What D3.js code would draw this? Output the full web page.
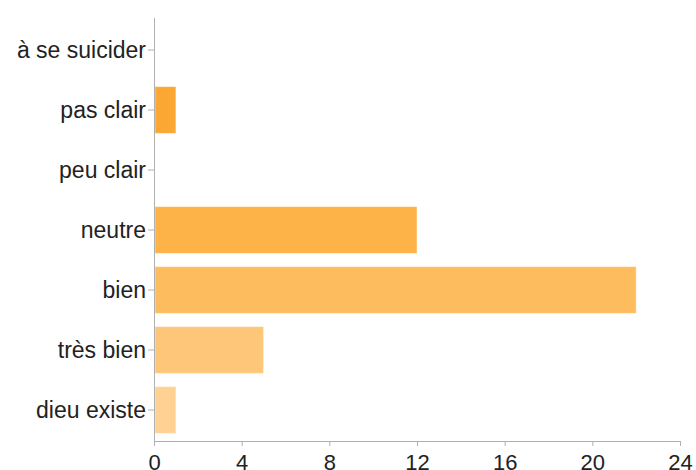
<!DOCTYPE html>
<html>
<head>
<meta charset="utf-8">
<script src="https://cdn.jsdelivr.net/npm/d3@7"></script>
<style>
  html, body { margin: 0; padding: 0; background: #fff; }
  svg { display: block; }
  .axis path, .axis line { stroke: #b0b0b0; }
  .axis text { font-family: "Liberation Sans", Arial, Helvetica, sans-serif; fill: #222; }
</style>
</head>
<body>
<svg id="chart" width="696" height="470"></svg>
<script>
const categories = ["à se suicider", "pas clair", "peu clair", "neutre", "bien", "très bien", "dieu existe"];
const values = [0, 1, 0, 12, 22, 5, 1];
const colors = ["#FBA12A", "#FBA733", "#FCAD3D", "#FDB347", "#FDBC5E", "#FEC678", "#FFD293"];
const xTicks = [0, 4, 8, 12, 16, 20, 24];

const svg = d3.select("#chart");
const x = d3.scaleLinear().domain([0, 24]).range([154, 680]);
const y = d3.scaleBand().domain(categories).range([20, 440]).paddingInner(0.22).paddingOuter(0.11);

svg.append("g").selectAll("rect")
  .data(categories)
  .join("rect")
  .attr("x", x(0) + 1)
  .attr("y", d => y(d))
  .attr("width", (d, i) => Math.max(0, x(values[i]) - x(0) - 1))
  .attr("height", y.bandwidth())
  .attr("fill", (d, i) => colors[i])
  .attr("stroke", "rgba(255,255,255,0.45)")
  .attr("stroke-width", 1)
  .style("display", (d, i) => values[i] > 0 ? null : "none");

const yAxis = svg.append("g")
  .attr("class", "axis")
  .attr("transform", "translate(154,0)")
  .call(d3.axisLeft(y).tickSizeOuter(0).tickSize(6).tickPadding(2));
yAxis.select(".domain").attr("d", "M0.5,18V441");
yAxis.selectAll("text").style("font-size", "23px").attr("dy", "0.34em");

const xAxis = svg.append("g")
  .attr("class", "axis")
  .attr("transform", "translate(0,441)")
  .call(d3.axisBottom(x).tickValues(xTicks).tickFormat(d3.format("d")).tickSizeOuter(0).tickSize(5).tickPadding(8));
xAxis.selectAll("text").style("font-size", "22px");
</script>
</body>
</html>
